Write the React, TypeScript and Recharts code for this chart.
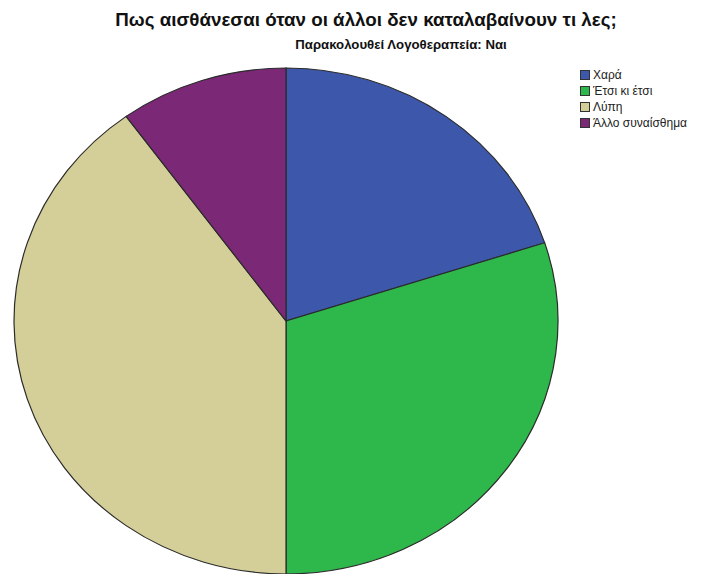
import { PieChart, Pie, Cell } from "recharts";

const categories = ["Χαρά", "Έτσι κι έτσι", "Λύπη", "Άλλο συναίσθημα"];
const counts = [2, 3, 4, 1];
const colors = ["#3d58ab", "#2eb84b", "#d4cf98", "#7b2877"];

const title = "Πως αισθάνεσαι όταν οι άλλοι δεν καταλαβαίνουν τι λες;";
const subtitle = "Παρακολουθεί Λογοθεραπεία: Ναι";

const data = categories.map((name, i) => ({ name, value: counts[i] }));

export default function App() {
  return (
    <div
      style={{
        position: "fixed",
        left: 0,
        top: 0,
        width: 707,
        height: 574,
        background: "#fff",
        overflow: "hidden",
        fontFamily: "Arial, 'Liberation Sans', sans-serif",
      }}
    >
      <div
        style={{
          position: "absolute",
          left: 0,
          top: 0,
          transform: "scale(1, 0.93)",
          transformOrigin: "286px 321px",
        }}
      >
        <PieChart width={707} height={650} margin={{ top: 0, right: 0, bottom: 0, left: 0 }}>
          <Pie
            data={data}
            dataKey="value"
            nameKey="name"
            cx={286}
            cy={321}
            outerRadius={272}
            startAngle={90}
            endAngle={-270}
            stroke="#2b2b2b"
            strokeWidth={1.2}
            isAnimationActive={false}
          >
            {data.map((d, i) => (
              <Cell key={d.name} fill={colors[i]} />
            ))}
          </Pie>
        </PieChart>
      </div>

      <div
        style={{
          position: "absolute",
          left: 0,
          width: 732,
          top: 9,
          textAlign: "center",
          fontWeight: "bold",
          fontSize: 18.8,
          color: "#111",
          whiteSpace: "nowrap",
        }}
      >
        {title}
      </div>
      <div
        style={{
          position: "absolute",
          left: 0,
          width: 802,
          top: 37,
          textAlign: "center",
          fontWeight: "bold",
          fontSize: 13.2,
          color: "#111",
          whiteSpace: "nowrap",
        }}
      >
        {subtitle}
      </div>

      <div style={{ position: "absolute", left: 580, top: 67, fontSize: 12, color: "#222" }}>
        {categories.map((c, i) => (
          <div key={c} style={{ display: "flex", alignItems: "center", height: 16 }}>
            <span
              style={{
                display: "inline-block",
                width: 10,
                height: 10,
                background: colors[i],
                border: "1px solid #333",
                marginRight: 3,
                boxSizing: "border-box",
              }}
            />
            {c}
          </div>
        ))}
      </div>
    </div>
  );
}
